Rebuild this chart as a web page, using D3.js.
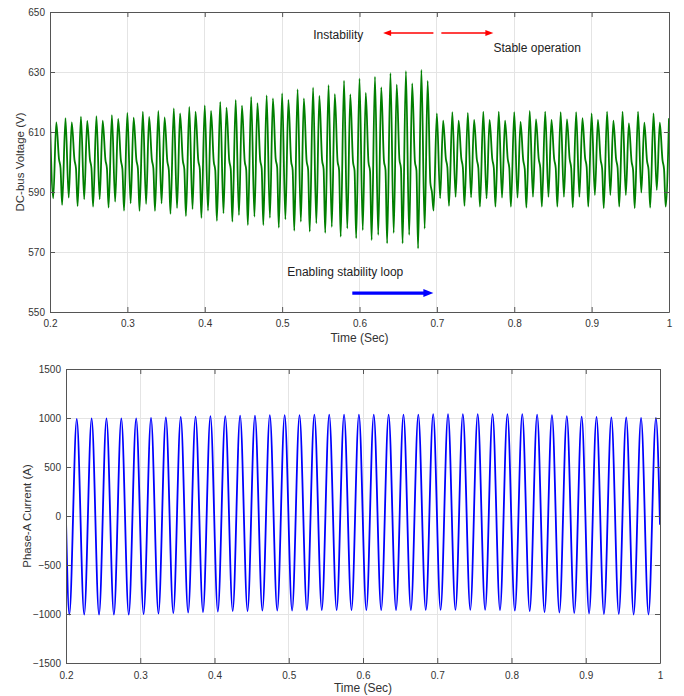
<!DOCTYPE html>
<html><head><meta charset="utf-8">
<script src="https://cdn.jsdelivr.net/npm/d3@7"></script>
<style>
body{margin:0;background:#fff}
svg{display:block}
text{font-family:"Liberation Sans",Arial,sans-serif}
</style>
</head><body>
<svg id="c" width="684" height="696"></svg>
<script>
// ---------- DATA ----------
const xTickValues = [0.2,0.3,0.4,0.5,0.6,0.7,0.8,0.9,1];
const vTickValues = [550,570,590,610,630,650];
const iTickValues = [-1500,-1000,-500,0,500,1000,1500];

// start time of each 0.02 s cycle (main peak of DC-bus voltage)
const cycleTimes = [0.20,0.22,0.24,0.26,0.28,0.30,0.32,0.34,0.36,0.38,
                    0.40,0.42,0.44,0.46,0.48,0.50,0.52,0.54,0.56,0.58,
                    0.60,0.62,0.64,0.66,0.68,0.70,0.72,0.74,0.76,0.78,
                    0.80,0.82,0.84,0.86,0.88,0.90,0.92,0.94,0.96,0.98];
// position of waveform features inside a cycle (s): main peak, trough A, second peak, shoulder hi, shoulder lo, trough B
const featureOffsets = [0, 0.0042, 0.0081, 0.0116, 0.0136, 0.0157];

const vPeakMain = [614.0,614.6,615.1,615.3,615.6,616.4,616.8,617.0,617.9,618.4,
                   618.9,620.0,620.7,621.7,622.2,622.9,624.2,624.8,625.6,627.1,
                   627.8,628.4,629.6,630.3,630.7,616.2,616.6,616.4,616.8,616.8,
                   616.6,617.0,616.8,616.6,616.6,616.2,616.8,616.8,616.8,616.2];
const vTroughA  = [587.9,588.1,587.6,587.6,586.8,586.2,586.0,586.2,584.6,584.3,
                   583.8,582.9,582.3,581.8,581.4,580.9,580.1,579.6,578.4,577.9,
                   577.3,575.7,576.4,575.7,577.8,587.9,588.4,588.2,587.9,588.1,
                   588.1,588.4,588.4,588.4,588.4,589.0,589.0,589.0,589.8,590.7];
const vPeakSecond=[613.2,613.2,613.7,613.8,614.4,614.8,615.0,614.9,616.2,616.8,
                   617.0,618.1,618.8,619.6,621.2,620.7,621.2,622.0,622.6,622.5,
                   623.0,624.9,625.8,626.2,627.0,613.8,613.8,614.0,614.0,613.8,
                   613.4,614.2,614.0,614.2,614.6,614.0,613.8,612.9,613.1,613.1];
const vShoulderHi=[601.0,600.8,600.9,600.8,600.6,600.8,600.9,600.3,600.6,600.6,
                   600.2,600.6,600.4,600.8,601.2,600.4,600.5,600.7,600.4,600.1,
                   600.0,600.4,600.9,600.2,593.0,601.1,601.1,601.0,601.0,601.0,
                   600.6,601.1,601.0,601.0,601.3,600.8,601.0,600.2,600.4,600.6];
const vShoulderLo=[598.0,597.8,597.9,597.8,597.6,597.8,597.9,597.3,597.6,597.6,
                   597.2,597.6,597.4,597.8,598.2,597.4,597.5,597.7,597.4,597.1,
                   597.0,597.4,597.9,597.2,590.0,598.1,598.1,598.0,598.0,598.0,
                   597.6,598.1,598.0,598.0,598.3,597.8,598.0,597.2,597.4,597.6];
const vTroughB  = [585.7,585.3,585.1,584.8,583.8,583.7,583.7,582.7,582.0,581.4,
                   580.4,580.1,579.0,579.0,578.1,577.1,576.8,576.4,575.1,574.6,
                   574.0,572.9,572.9,571.2,583.8,585.4,585.4,585.1,585.1,585.1,
                   584.8,585.1,585.1,584.9,585.1,584.6,585.1,584.6,584.8,585.1];
const vEnd = [1.0, 614.6];

// phase-A current: trough and peak positions inside each cycle, and extreme values
const iTroughOffset = 0.0045, iPeakOffset = 0.0145;
const iPeak   = [990,995,995,995,995,1000,1005,1010,1015,1020,
                 1020,1025,1025,1030,1030,1030,1035,1035,1035,1035,
                 1035,1035,1035,1035,1040,1040,1040,1040,1040,1040,
                 1040,1035,1030,1020,1015,1010,1005,1005,1000,1000];
const iTrough = [-1005,-1005,-1005,-1005,-1005,-1000,-995,-990,-985,-980,
                 -975,-970,-970,-965,-965,-965,-960,-960,-960,-960,
                 -960,-960,-960,-960,-958,-958,-958,-958,-958,-960,
                 -965,-970,-980,-985,-990,-995,-1000,-1000,-1005,-1005];
const iStart = [0.2, -40], iEnd = [1.0, -90];

// annotations (data coordinates of upper plot)
const annTexts = ["Instability", "Stable operation", "Enabling stability loop"];
const annT = [0.5402, 0.7731, 0.5066];
const annV = [642.3, 638.0, 563.3];
const redArrowFrom = [0.6955, 0.7058], redArrowTo = [0.6305, 0.7730], redArrowV = 643.0;
const blueArrowFrom = 0.5907, blueArrowTo = 0.6955, blueArrowV = 556.3;

// ---------- BUILD SERIES ----------
const vPoints = [];
cycleTimes.forEach((t, k) => {
  const vals = [vPeakMain[k], vTroughA[k], vPeakSecond[k], vShoulderHi[k], vShoulderLo[k], vTroughB[k]];
  featureOffsets.forEach((o, j) => vPoints.push([t + o, vals[j]]));
});
vPoints.push(vEnd);

const iPoints = [iStart];
cycleTimes.forEach((t, k) => {
  iPoints.push([t + iTroughOffset, iTrough[k]]);
  iPoints.push([t + iPeakOffset, iPeak[k]]);
});
iPoints.push(iEnd);

// ---------- DRAW ----------
const svg = d3.select("#c");
const axisColor = "#555", textColor = "#333", gridColor = "#e4e4e4";

function panel(opt) {
  const x = d3.scaleLinear([0.2, 1], [opt.l, opt.r]);
  const y = d3.scaleLinear(opt.yDomain, [opt.b, opt.t]);
  const g = svg.append("g");
  g.append("rect").attr("x", opt.l).attr("y", opt.t).attr("width", opt.r - opt.l).attr("height", opt.b - opt.t).attr("fill", "#fff");
  // grid
  g.append("g").selectAll("line").data(xTickValues.slice(1, -1)).join("line")
    .attr("x1", d => x(d)).attr("x2", d => x(d)).attr("y1", opt.t).attr("y2", opt.b)
    .attr("stroke", gridColor).attr("stroke-width", 1).attr("shape-rendering", "crispEdges");
  g.append("g").selectAll("line").data(opt.yTicks.slice(1, -1)).join("line")
    .attr("y1", d => y(d)).attr("y2", d => y(d)).attr("x1", opt.l).attr("x2", opt.r)
    .attr("stroke", gridColor).attr("stroke-width", 1).attr("shape-rendering", "crispEdges");

  // data line
  const cid = "clip" + opt.id;
  svg.append("clipPath").attr("id", cid).append("rect")
    .attr("x", opt.l).attr("y", opt.t).attr("width", opt.r - opt.l).attr("height", opt.b - opt.t);
  g.append("path").datum(opt.points)
    .attr("clip-path", `url(#${cid})`)
    .attr("fill", "none").attr("stroke", opt.color).attr("stroke-width", opt.lw)
    .attr("stroke-linejoin", "round")
    .attr("d", d3.line().x(d => x(d[0])).y(d => y(d[1])).curve(d3.curveMonotoneX));

  // axes
  const style = sel => {
    sel.select(".domain").attr("stroke", axisColor);
    sel.selectAll(".tick line").attr("stroke", axisColor);
    sel.selectAll("text").attr("fill", textColor).attr("font-size", 10)
      .attr("font-family", '"Liberation Sans",Arial,sans-serif');
  };
  g.append("g").attr("transform", `translate(0,${opt.b})`)
    .call(d3.axisBottom(x).tickValues(xTickValues).tickSizeInner(-5).tickSizeOuter(0).tickPadding(opt.xPad).tickFormat(d3.format("")))
    .call(style);
  g.append("g").attr("transform", `translate(0,${opt.t})`)
    .call(d3.axisTop(x).tickValues(xTickValues).tickSizeInner(-5).tickSizeOuter(0).tickFormat(""))
    .call(style);
  g.append("g").attr("transform", `translate(${opt.l},0)`)
    .call(d3.axisLeft(y).tickValues(opt.yTicks).tickSizeInner(-5).tickSizeOuter(0).tickPadding(5).tickFormat(d3.format("")))
    .call(style);
  g.append("g").attr("transform", `translate(${opt.r},0)`)
    .call(d3.axisRight(y).tickValues(opt.yTicks).tickSizeInner(-5).tickSizeOuter(0).tickFormat(""))
    .call(style);

  // labels
  g.append("text").attr("x", (opt.l + opt.r) / 2).attr("y", opt.xLabelY)
    .attr("text-anchor", "middle").attr("dominant-baseline", "central")
    .attr("font-size", 12).attr("fill", textColor).text("Time (Sec)");
  g.append("text").attr("transform", `translate(${opt.yLabelX},${(opt.t + opt.b) / 2}) rotate(-90)`)
    .attr("text-anchor", "middle").attr("dominant-baseline", "central")
    .attr("font-size", 11.5).attr("fill", textColor).text(opt.yLabel);
  return {x, y, g};
}

const topPanel = panel({id: "t", l: 50, r: 669, t: 12, b: 312, yDomain: [550, 650], yTicks: vTickValues,
  points: vPoints, color: "#007f00", lw: 1.8, xPad: 7.5, xLabelY: 338, yLabelX: 20, yLabel: "DC-bus Voltage (V)"});
const botPanel = panel({id: "b", l: 66, r: 660, t: 369, b: 663, yDomain: [-1500, 1500], yTicks: iTickValues,
  points: iPoints, color: "#0000ff", lw: 1.8, xPad: 8.5, xLabelY: 688, yLabelX: 27, yLabel: "Phase-A Current (A)"});

// annotations
const ax = topPanel.x, ay = topPanel.y;
topPanel.g.selectAll("text.ann").data(annTexts).join("text").attr("class", "ann")
  .attr("x", (d, i) => ax(annT[i])).attr("y", (d, i) => ay(annV[i]))
  .attr("dominant-baseline", "central").attr("font-size", 12).attr("fill", "#222").text(d => d);

function arrow(x1, x2, yy, color, lw, hl, hw) {
  const dir = Math.sign(x2 - x1);
  topPanel.g.append("line").attr("x1", x1).attr("x2", x2 - dir * hl * 0.8).attr("y1", yy).attr("y2", yy)
    .attr("stroke", color).attr("stroke-width", lw);
  topPanel.g.append("path")
    .attr("d", `M${x2},${yy} L${x2 - dir * hl},${yy - hw} L${x2 - dir * hl},${yy + hw} Z`)
    .attr("fill", color);
}
redArrowFrom.forEach((f, i) => arrow(ax(f), ax(redArrowTo[i]), ay(redArrowV), "#ff0000", 1.5, 8, 3));
arrow(ax(blueArrowFrom), ax(blueArrowTo), ay(blueArrowV), "#0000ff", 3.2, 10, 4);
</script>
</body></html>
